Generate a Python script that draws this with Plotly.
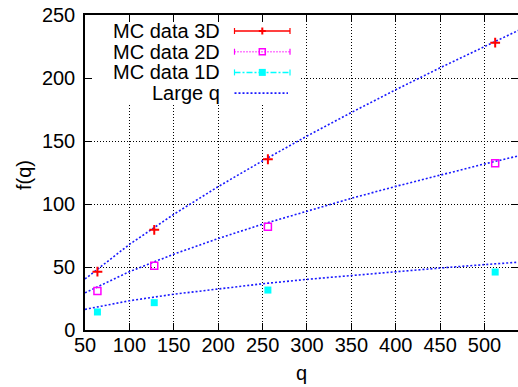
import plotly.graph_objects as go

# ---- data ----
q_mc = [64, 128, 256, 512]
f_3d = [46.3, 79.5, 135.5, 228.0]
f_2d = [31.0, 51.0, 82.0, 132.3]
f_1d = [14.3, 21.7, 31.7, 46.0]

q_fit = [50, 100, 150, 200, 250, 300, 350, 400, 450, 500, 540]
fit_3d = [40.5, 67.9, 91.8, 113.8, 134.3, 153.9, 172.6, 190.7, 208.1, 225.1, 238.4]
fit_2d = [29.5, 46.3, 60.2, 72.6, 84.0, 94.5, 104.5, 114.0, 123.0, 131.8, 138.5]
fit_1d = [16.4, 23.2, 28.4, 32.8, 36.7, 40.2, 43.4, 46.4, 49.2, 51.9, 53.9]

legend_labels = ["MC data 3D", "MC data 2D", "MC data 1D", "Large q"]
x_ticks = [50, 100, 150, 200, 250, 300, 350, 400, 450, 500]
y_ticks = [0, 50, 100, 150, 200, 250]

FONT = "Liberation Sans, Arial, Helvetica, sans-serif"
FS = 20
RED, MAG, CYAN, BLUE = "#ff0000", "#ff00ff", "#00ffff", "#1a1aff"

FIG_W, FIG_H = 518, 387
# plot area: x 85..518, y 15..330 px
L, T, W, H = 85, 15, 433, 315
def px_x(p):
    return (p - L) / W
def px_y(p):
    return (T + H - p) / H

fig = go.Figure()

fit_style = dict(mode="lines", line=dict(color=BLUE, width=1.6, dash="2px,2px"),
                 hoverinfo="skip", showlegend=False)
fig.add_trace(go.Scatter(x=q_fit, y=fit_3d, **fit_style))
fig.add_trace(go.Scatter(x=q_fit, y=fit_2d, **fit_style))
fig.add_trace(go.Scatter(x=q_fit, y=fit_1d, yaxis="y2", **fit_style))

fig.add_trace(go.Scatter(x=q_mc, y=f_3d, mode="markers", showlegend=False,
                         marker=dict(symbol="cross-thin", size=7, color=RED,
                                     line=dict(color=RED, width=2))))
fig.add_trace(go.Scatter(x=q_mc, y=f_2d, mode="markers", showlegend=False,
                         marker=dict(symbol="square-open", size=7, color=MAG,
                                     line=dict(color=MAG, width=1.5))))
fig.add_trace(go.Scatter(x=q_mc, y=f_1d, mode="markers", showlegend=False,
                         marker=dict(symbol="square", size=7, color=CYAN,
                                     line=dict(width=0))))

shapes = []
# opaque key box (hides grid behind the key)
shapes.append(dict(type="rect", xref="x", yref="y", x0=50, x1=292.3, y0=179, y1=249,
                   fillcolor="white", line=dict(width=0), layer="between"))

rows_y = [31, 51.7, 72.4, 93.1]
lx0, lx1, lxm = px_x(234.5), px_x(290), px_x(262.3)
styles = [(RED, "solid"), (MAG, "1px,2px"), (CYAN, "6px,2px,2px,2px"), (BLUE, "2px,2px")]
annotations = []
for i, (lab, (col, dash), py) in enumerate(zip(legend_labels, styles, rows_y)):
    yy = px_y(py)
    annotations.append(dict(text=lab, x=px_x(221.7), y=yy, xref="paper", yref="paper",
                            xanchor="right", yanchor="middle", showarrow=False,
                            font=dict(size=FS, family=FONT, color="black")))
    x1 = lx1 if i < 3 else px_x(288)
    shapes.append(dict(type="line", xref="paper", yref="paper", x0=lx0, x1=x1, y0=yy, y1=yy,
                       line=dict(color=col, width=1.5 if i != 3 else 1.6, dash=dash)))
    if i < 3:
        for xe in (lx0, lx1):
            shapes.append(dict(type="line", xref="paper", yref="paper", ysizemode="pixel",
                               yanchor=yy, x0=xe, x1=xe, y0=-3, y1=3,
                               line=dict(color=col, width=1.2)))
# legend markers
y3 = px_y(rows_y[0])
shapes.append(dict(type="line", xref="paper", yref="paper", ysizemode="pixel", yanchor=y3,
                   x0=lxm, x1=lxm, y0=-3.5, y1=3.5, line=dict(color=RED, width=2)))
shapes.append(dict(type="line", xref="paper", yref="paper", xsizemode="pixel", xanchor=lxm,
                   x0=-3.5, x1=3.5, y0=y3, y1=y3, line=dict(color=RED, width=2)))
y2 = px_y(rows_y[1])
shapes.append(dict(type="rect", xref="paper", yref="paper", xsizemode="pixel", ysizemode="pixel",
                   xanchor=lxm, yanchor=y2, x0=-3, x1=3, y0=-3, y1=3,
                   line=dict(color=MAG, width=1.5), fillcolor="rgba(0,0,0,0)"))
y1 = px_y(rows_y[2])
shapes.append(dict(type="rect", xref="paper", yref="paper", xsizemode="pixel", ysizemode="pixel",
                   xanchor=lxm, yanchor=y1, x0=-3.5, x1=3.5, y0=-3.5, y1=3.5,
                   line=dict(width=0), fillcolor=CYAN))

# axis titles
annotations.append(dict(text="q", x=px_x(301.7), y=px_y(373), xref="paper", yref="paper",
                        xanchor="center", yanchor="middle", showarrow=False,
                        font=dict(size=FS, family=FONT, color="black")))
annotations.append(dict(text="f(q)", x=px_x(24), y=px_y(175), xref="paper", yref="paper",
                        xanchor="center", yanchor="middle", showarrow=False, textangle=-90,
                        font=dict(size=FS, family=FONT, color="black")))

grid = dict(showgrid=True, gridcolor="black", gridwidth=1, griddash="1px,2px")
fig.update_layout(
    width=FIG_W, height=FIG_H,
    margin=dict(l=L, r=FIG_W - L - W, t=T, b=FIG_H - T - H, pad=0, autoexpand=False),
    plot_bgcolor="white", paper_bgcolor="white",
    showlegend=False,
    font=dict(family=FONT, size=FS, color="black"),
    xaxis=dict(range=[50, 537.7], tickvals=x_ticks, ticks="inside", ticklen=7,
               tickcolor="black", tickwidth=1, showline=True, linecolor="black",
               linewidth=1.5, mirror="ticks", zeroline=False, ticklabelstandoff=-4,
               automargin=False, tickfont=dict(size=FS, family=FONT), **grid),
    yaxis=dict(range=[0, 250], tickvals=y_ticks, ticks="inside", ticklen=7,
               tickcolor="black", tickwidth=1, showline=True, linecolor="black",
               linewidth=1.5, mirror=False, zeroline=False, ticklabelstandoff=4,
               automargin=False, tickfont=dict(size=FS, family=FONT), **grid),
    yaxis2=dict(range=[0, 250], tickvals=y_ticks, overlaying="y", side="right", anchor="x",
                ticks="inside", ticklen=7, tickcolor="black", tickwidth=1,
                showticklabels=False, showline=False, showgrid=False, zeroline=False,
                automargin=False),
    shapes=shapes,
    annotations=annotations,
)

fig.write_html(
    "out.html",
    config={"displayModeBar": False},
    post_script="document.body.style.margin='0px';document.body.style.padding='0px';"
                "document.body.style.overflow='hidden';",
)
